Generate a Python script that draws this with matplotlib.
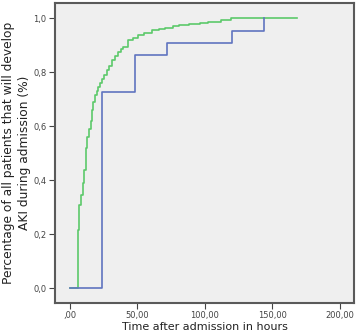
import matplotlib.pyplot as plt

# cumulative fraction of AKI patients over time (hours)
green_t = [0, 6, 7, 8, 9.4, 10.6, 11.6, 12.2, 12.8, 14, 15.3, 16, 17.3, 18.5,
           20, 21, 22.3, 23.5, 25, 27.2, 29, 30.9, 33.5, 35.8, 37.5, 39.5, 43,
           47, 50.6, 55, 60.5, 66, 70.4, 76, 81, 88, 96, 102, 108.6, 112, 119, 168]
green_y = [0, 0.215, 0.307, 0.344, 0.39, 0.437, 0.474, 0.52, 0.56, 0.59, 0.62,
           0.66, 0.69, 0.715, 0.73, 0.746, 0.76, 0.776, 0.79, 0.807, 0.825,
           0.844, 0.86, 0.876, 0.885, 0.894, 0.919, 0.928, 0.937, 0.946, 0.956,
           0.96, 0.964, 0.97, 0.974, 0.978, 0.983, 0.985, 0.987, 0.994, 1.0, 1.0]

blue_t = [0, 24, 48, 72, 120, 144]
blue_y = [0, 16 / 22, 19 / 22, 20 / 22, 21 / 22, 1.0]

x_ticks = [0, 50, 100, 150, 200]
x_labels = [',00', '50,00', '100,00', '150,00', '200,00']
y_ticks = [0, 0.2, 0.4, 0.6, 0.8, 1.0]
y_labels = ['0,0', '0,2', '0,4', '0,6', '0,8', '1,0']

fig = plt.figure(figsize=(3.58, 3.36), dpi=100)
ax = fig.add_axes([0.1536, 0.098, 0.835, 0.893])
ax.set_facecolor('#efefef')

ax.step(green_t, green_y, where='post', color='#5cc96a', lw=1.2)
ax.step(blue_t, blue_y, where='post', color='#6074c0', lw=1.2)

ax.set_xlim(-11.1, 210.4)
ax.set_ylim(-0.0556, 1.057)
ax.set_xticks(x_ticks)
ax.set_xticklabels(x_labels)
ax.set_yticks(y_ticks)
ax.set_yticklabels(y_labels)
ax.tick_params(labelsize=6, colors='#444444', length=4, width=0.8, pad=2)

for s in ax.spines.values():
    s.set_color('#5a5a5a')
    s.set_linewidth(1.5)

ax.set_xlabel('Time after admission in hours', fontsize=8, color='#222222',
              labelpad=1)
ax.set_ylabel('Percentage of all patients that will develop\nAKI during admission (%)',
              fontsize=8.8, color='#222222', labelpad=2, linespacing=1.3)

fig.savefig('out.png', dpi=100)
